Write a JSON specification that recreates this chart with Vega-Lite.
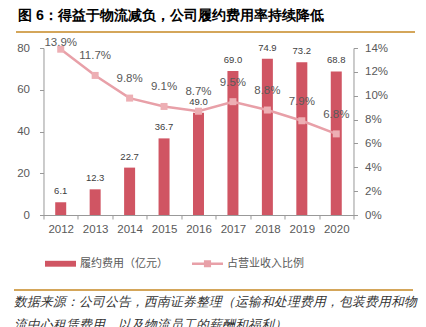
{
  "$schema": "https://vega.github.io/schema/vega-lite/v6.json",
  "padding": {"left": 14, "top": 8, "right": 8, "bottom": 0},
  "background": "#ffffff",
  "config": {
    "view": {"stroke": null},
    "axis": {"labelFont": "Liberation Sans"},
    "text": {"font": "Liberation Sans"}
  },
  "center": true,
  "bounds": "full",
  "spacing": 4,
  "vconcat": [
    {
      "width": 399,
      "height": 2,
      "title": {
        "text": "图 6：得益于物流减负，公司履约费用率持续降低",
        "anchor": "start",
        "dx": 2,
        "fontSize": 14.2,
        "fontWeight": "bold",
        "color": "#000000",
        "offset": 8
      },
      "data": {"values": [{"a": 0, "b": 1, "r": 0, "r2": 1}]},
      "mark": {"type": "rect", "fill": "#D4A65A"},
      "encoding": {
        "x": {"field": "a", "type": "quantitative", "axis": null, "scale": {"domain": [0, 1]}},
        "x2": {"field": "b"},
        "y": {"field": "r", "type": "quantitative", "axis": null, "scale": {"domain": [0, 1]}},
        "y2": {"field": "r2"}
      }
    },
    {
      "center": true,
      "bounds": "full",
      "spacing": 54,
      "vconcat": [
        {
          "width": 310,
          "height": 167,
          "data": {
            "values": [
              {"year": "2012", "fee": 6.1, "ratio": 0.139},
              {"year": "2013", "fee": 12.3, "ratio": 0.117},
              {"year": "2014", "fee": 22.7, "ratio": 0.098},
              {"year": "2015", "fee": 36.7, "ratio": 0.091},
              {"year": "2016", "fee": 49.0, "ratio": 0.087},
              {"year": "2017", "fee": 69.0, "ratio": 0.095},
              {"year": "2018", "fee": 74.9, "ratio": 0.088},
              {"year": "2019", "fee": 73.2, "ratio": 0.079},
              {"year": "2020", "fee": 68.8, "ratio": 0.068}
            ]
          },
          "encoding": {
            "x": {
              "field": "year",
              "type": "ordinal",
              "scale": {"paddingInner": 0, "paddingOuter": 0},
              "axis": {
                "title": null,
                "labelAngle": 0,
                "tickBand": "extent",
                "domainColor": "#999999",
                "tickColor": "#999999",
                "tickSize": 4,
                "labelColor": "#595959",
                "labelFontSize": 11.5,
                "labelPadding": 4,
                "grid": false
              }
            }
          },
          "layer": [
            {
              "encoding": {
                "y": {
                  "field": "fee",
                  "type": "quantitative",
                  "scale": {"domain": [0, 80]},
                  "axis": {
                    "title": null,
                    "values": [0, 20, 40, 60, 80],
                    "grid": false,
                    "domainColor": "#999999",
                    "tickColor": "#999999",
                    "tickSize": 4,
                    "labelColor": "#595959",
                    "labelFontSize": 11.5,
                    "labelPadding": 10
                  }
                }
              },
              "layer": [
                {"mark": {"type": "bar", "size": 11, "color": "#D05563"}},
                {
                  "mark": {"type": "text", "baseline": "bottom", "dy": -6, "fontSize": 9.5, "color": "#404040"},
                  "encoding": {"text": {"field": "fee", "type": "quantitative", "format": ".1f"}}
                }
              ]
            },
            {
              "encoding": {
                "y": {
                  "field": "ratio",
                  "type": "quantitative",
                  "scale": {"domain": [0, 0.14]},
                  "axis": {
                    "title": null,
                    "orient": "right",
                    "format": ".0%",
                    "values": [0, 0.02, 0.04, 0.06, 0.08, 0.1, 0.12, 0.14],
                    "grid": false,
                    "domainColor": "#999999",
                    "tickColor": "#999999",
                    "tickSize": 4,
                    "labelColor": "#595959",
                    "labelFontSize": 11.5,
                    "labelPadding": 7
                  }
                }
              },
              "layer": [
                {"mark": {"type": "line", "color": "#E8A0A8", "strokeWidth": 2.5}},
                {"mark": {"type": "point", "shape": "square", "filled": true, "size": 49, "color": "#EDAFB4", "opacity": 1}},
                {
                  "transform": [{"filter": "datum.year === '2012'"}],
                  "mark": {"type": "text", "baseline": "middle", "dy": -6, "fontSize": 11.5, "color": "#595959"},
                  "encoding": {
                    "text": {"field": "ratio", "type": "quantitative", "format": ".1%"}
                  }
                },
                {
                  "transform": [{"filter": "datum.year !== '2012'"}],
                  "mark": {"type": "text", "baseline": "middle", "dy": -19, "fontSize": 11.5, "color": "#595959"},
                  "encoding": {
                    "text": {"field": "ratio", "type": "quantitative", "format": ".1%"}
                  }
                }
              ]
            },
            {
              "data": {"values": []},
              "mark": {"type": "point", "filled": true, "opacity": 1},
              "encoding": {
                "color": {
                  "field": "s",
                  "type": "nominal",
                  "scale": {"domain": ["履约费用（亿元）", "占营业收入比例"], "range": ["#D05563", "#E8A0A8"]},
                  "legend": {
                    "orient": "none",
                    "legendX": 31,
                    "legendY": 217,
                    "direction": "horizontal",
                    "title": null,
                    "symbolSize": 961,
                    "symbolStrokeWidth": 0,
                    "labelFont": "Noto Sans CJK SC",
                    "labelFontSize": 11,
                    "labelColor": "#595959",
                    "labelOffset": 4,
                    "columnPadding": 24
                  }
                },
                "shape": {
                  "field": "s",
                  "type": "nominal",
                  "scale": {
                    "domain": ["履约费用（亿元）", "占营业收入比例"],
                    "range": ["M-1,-0.19H1V0.19H-1Z", "M-1,-0.08H1V0.08H-1Z M-0.23,-0.23H0.23V0.23H-0.23Z"]
                  },
                  "legend": {
                    "orient": "none",
                    "legendX": 31,
                    "legendY": 217,
                    "direction": "horizontal",
                    "title": null,
                    "symbolSize": 961,
                    "symbolStrokeWidth": 0,
                    "labelFont": "Noto Sans CJK SC",
                    "labelFontSize": 11,
                    "labelColor": "#595959",
                    "labelOffset": 4,
                    "columnPadding": 24
                  }
                }
              }
            }
          ],
          "resolve": {"scale": {"y": "independent"}}
        },
        {
          "width": 399,
          "height": 2,
          "title": {
            "text": ["数据来源：公司公告，西南证券整理（运输和处理费用，包装费用和物", "流中心租赁费用，以及物流员工的薪酬和福利）"],
            "orient": "bottom",
            "anchor": "start",
            "fontSize": 12.8,
            "fontStyle": "italic",
            "fontWeight": "normal",
            "color": "#333333",
            "lineHeight": 23,
            "offset": 5
          },
          "data": {"values": [{"a": 0, "b": 1, "r": 0, "r2": 1}]},
          "mark": {"type": "rect", "fill": "#D4A65A"},
          "encoding": {
            "x": {"field": "a", "type": "quantitative", "axis": null, "scale": {"domain": [0, 1]}},
            "x2": {"field": "b"},
            "y": {"field": "r", "type": "quantitative", "axis": null, "scale": {"domain": [0, 1]}},
            "y2": {"field": "r2"}
          }
        }
      ]
    }
  ]
}
